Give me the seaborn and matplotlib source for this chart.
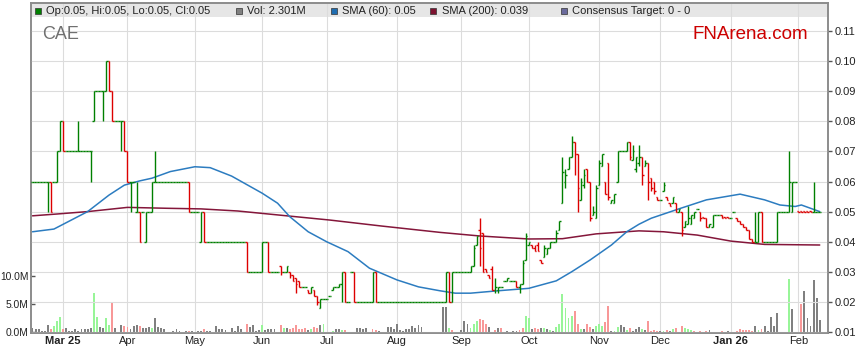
import numpy as np
import pandas as pd
import seaborn as sns
import matplotlib.pyplot as plt
from matplotlib.patches import Rectangle
from matplotlib.ticker import FormatStrFormatter

sns.set_style("white")
plt.rcParams["font.family"] = ["Liberation Sans", "DejaVu Sans"]
plt.rcParams["font.size"] = 8

# daily bars, 17 Feb 2025 - 11 Feb 2026 (weekdays)
open_ = (
    [.06, .06, .06, .06, .06, .06, .06, .06, .06, .07]  # Feb 25
    + [.08, .07, .07, .07, .07, .07, .07, .07, .07, .07, .08, .09, .09, .09, .09, .10, .09, .08, .08, .08, .08]  # Mar
    + [.07, .06, .06, .05, .05, .05, .04, .05, .05, .06] + [.06] * 10 + [.06, .05]  # Apr
    + [.05, .05, .04, .05] + [.04] * 13 + [.04] + [.03] * 4  # May
    + [.03, .04, .04, .03, .03, .03, .032, .030, .030, .030, .029, .028, .027, .025, .025, .024, .023, .024, .022, .018, .021]  # Jun
    + [.021, .022, .024, .025, .025, .026, .030, .020, .030, .030] + [.020] * 5 + [.020, .030] + [.020] * 6  # Jul
    + [.020] * 16 + [.020, .030, .020, .030, .030]  # Aug
    + [.030, .030, .030, .030, .032, .039, .044, .043, .031, .029, .031, .024, .024, .025, .027, .027, .027, .027, .027, .025, .026, .034]  # Sep
    + [.039, .039, .038, .039, .034, .035, .036, .038, .040, .040, .044, .053, .060, .064, .068, .073, .069, .054, .059, .064, .060, .049, .048]  # Oct
    + [.059, .065, .060, .066, .053, .053, .060, .070, .070, .070, .073, .067, .064, .066, .068, .065, .066, .061, .060, .055]  # Nov
    + [.054, .057, .055, .053, .053, .053, .050, .050, .045, .046, .046, .048, .051, .050, .0482, .048, .045, .045, .049, .049, .049, .0482, .0482]  # Dec
    + [.048, .050, .048, .047, .046, .045, .044, .041, .040, .040, .050] + [.040] * 4 + [.040] + [.050] * 3 + [.050, .050, .060]  # Jan 26
    + [.0502] * 5 + [.050, .050, .050]  # Feb 26
)
high = (
    [.06, .06, .06, .06, .06, .06, .06, .06, .07, .08]
    + [.08, .07, .07, .07, .07, .08, .07, .07, .07, .07, .09, .09, .09, .09, .10, .10, .09, .08, .08, .08, .08]
    + [.07, .06, .06, .06, .05, .05, .05, .05, .06, .07] + [.06] * 10 + [.06, .05]
    + [.05, .05, .05, .05] + [.04] * 13 + [.04] + [.03] * 4
    + [.04, .04, .04, .03, .03, .03, .032, .030, .032, .030, .029, .028, .027, .025, .025, .024, .025, .024, .022, .021, .021]
    + [.021, .022, .025, .025, .026, .030, .030, .020, .030, .030] + [.020] * 5 + [.030, .030] + [.020] * 6
    + [.020] * 16 + [.030, .030, .030, .030, .030]
    + [.030, .030, .030, .032, .039, .042, .048, .043, .031, .029, .032, .028, .025, .025, .027, .028, .027, .027, .027, .026, .034, .043]
    + [.040, .039, .039, .040, .034, .039, .038, .040, .040, .044, .047, .068, .064, .068, .075, .073, .069, .061, .064, .064, .060, .052, .059]
    + [.067, .069, .060, .066, .054, .056, .070, .070, .070, .073, .073, .072, .068, .072, .068, .067, .066, .061, .060, .055]
    + [.054, .060, .055, .053, .055, .053, .051, .050, .047, .052, .049, .050, .051, .050, .0482, .048, .046, .049, .049, .049, .049, .0482, .0482]
    + [.048, .050, .048, .047, .046, .045, .044, .041, .050, .050, .050] + [.040] * 4 + [.050] + [.050] * 3 + [.070, .060, .060]
    + [.0502] * 5 + [.060, .050, .050]
)
low = (
    [.06, .06, .06, .06, .06, .05, .05, .06, .06, .07]
    + [.07, .07, .07, .07, .07, .07, .07, .07, .07, .06, .08, .09, .09, .08, .09, .09, .08, .08, .08, .07, .07]
    + [.06, .05, .06, .05, .04, .05, .04, .05, .05, .06] + [.06] * 10 + [.05, .05]
    + [.05, .05, .04, .04] + [.04] * 13 + [.03] + [.03] * 4
    + [.03, .04, .03, .03, .03, .03, .029, .030, .030, .028, .027, .023, .025, .025, .025, .023, .023, .022, .019, .018, .021]
    + [.021, .022, .024, .025, .025, .020, .020, .020, .030, .020] + [.020] * 5 + [.020, .020] + [.020] * 6
    + [.020] * 16 + [.020, .020, .020, .030, .030]
    + [.030, .030, .030, .030, .032, .039, .032, .030, .030, .028, .024, .023, .023, .025, .027, .027, .027, .027, .025, .023, .026, .034]
    + [.039, .038, .037, .037, .033, .035, .036, .038, .040, .040, .044, .053, .058, .064, .068, .062, .050, .054, .058, .060, .047, .049, .048]
    + [.059, .065, .056, .054, .053, .053, .060, .070, .070, .070, .067, .067, .063, .065, .059, .065, .054, .057, .056, .054]
    + [.054, .057, .054, .052, .053, .050, .050, .042, .045, .046, .046, .048, .051, .047, .048, .045, .045, .045, .049, .049, .048, .048, .048]
    + [.048, .050, .047, .046, .045, .044, .041, .040, .040, .040, .040] + [.040] * 4 + [.040] + [.050] * 3 + [.050, .050, .060]
    + [.050] * 5 + [.050, .050, .050]
)
close = (
    [.06, .06, .06, .06, .06, .06, .05, .06, .07, .08]
    + [.07, .07, .07, .07, .07, .07, .07, .07, .07, .07, .09, .09, .09, .09, .10, .09, .08, .08, .08, .08, .07]
    + [.06, .06, .06, .05, .04, .05, .05, .05, .06, .06] + [.06] * 10 + [.05, .05]
    + [.05, .05, .05, .04] + [.04] * 13 + [.03] + [.03] * 4
    + [.04, .04, .03, .03, .03, .03, .030, .030, .032, .029, .027, .026, .025, .025, .025, .023, .025, .022, .020, .021, .021]
    + [.021, .022, .025, .025, .026, .030, .020, .020, .030, .020] + [.020] * 5 + [.030, .020] + [.020] * 6
    + [.020] * 16 + [.030, .020, .030, .030, .030]
    + [.030, .030, .030, .032, .038, .042, .038, .030, .030, .028, .024, .025, .025, .025, .027, .028, .027, .027, .025, .026, .033, .042]
    + [.040, .038, .037, .037, .033, .038, .038, .040, .040, .043, .047, .063, .062, .068, .073, .069, .058, .060, .062, .060, .048, .050, .058]
    + [.066, .069, .056, .055, .054, .056, .070, .070, .070, .073, .068, .070, .068, .068, .062, .066, .060, .058, .057, .054]
    + [.054, .059, .054, .052, .055, .050, .051, .044, .047, .048, .049, .050, .051, .048, .048, .045, .046, .049, .049, .049, .048, .048, .048]
    + [.048, .050, .047, .046, .045, .044, .041, .040, .040, .050, .040] + [.040] * 4 + [.050] + [.050] * 3 + [.060, .060, .060]
    + [.050] * 8
)
# volume in millions, and bar colour class (g up, r down, n unchanged)
volume = (
    [0.7, 0.5, 0.5, 0.2, 0.2, 1.2, 0.5, 1.0, 1.9, 2.6]
    + [0.5, 0.65, 0.2, 0.2, 0.5, 0.2, 0.5, 0.5, 0.5, 0.65, 6.9, 2.6, 0.9, 0.65, 2.4, 1.2, 5.1, 0.65, 0, 1.2, 1.0]
    + [0.8, 0.5, 1.0, 1.2, 1.0, 0.65, 0.65, 0.8, 0.7, 2.4, 0.8, 0.65, 0.5, 0, 0, 0.2, 0.5, 0.2, 0, 0.2, 0.2, 0.2]
    + [0, 0.2, 0.2, 0.5, 0.2, 0.2, 0, 1.0, 0.5, 0.5, 0.3, 0, 0.65, 0.2, 1.0, 0.5, 0, 1.5, 0.9, 1.3, 0.2, 0.3]
    + [1.2, 0.35, 0.5, 0.5, 0.5, 0, 1.3, 0.7, 0.7, 0.5, 0.7, 1.3, 0.5, 0.5, 0.7, 0.35, 0.5, 0.9, 0.7, 1.2, 1.5]
    + [0, 0, 0.2, 0.5, 0.5, 0.3, 0.3, 0, 0, 0, 0.65, 0.65, 0.5, 0.65, 0, 0.5, 0.3, 0.2, 0, 0, 0.8, 0.8, 0.5]
    + [1.4, 0.3, 0.2, 0.5, 0.5, 1.0, 0.65, 1.2, 0.9, 0, 0, 0, 0, 0, 0, 4.4, 4.4, 0.7, 0.3, 0, 0]
    + [0.3, 2.0, 1.5, 0.7, 1.5, 2.0, 2.3, 2.2, 1.5, 0.9, 0, 0.3, 0.7, 0.7, 0, 0.2, 0, 0.2, 0.2, 0.35, 0.7, 2.8]
    + [2.4, 0.5, 0.7, 0.5, 0.7, 0.7, 0.5, 0.35, 0.2, 0.9, 1.5, 6.7, 4.3, 2.4, 2.8, 3.7, 1.5, 0.5, 0.5, 1.4, 0.8, 0.5, 1.0]
    + [1.4, 1.0, 1.7, 4.6, 0.2, 0.2, 0.9, 1.3, 0.8, 0.3, 0.65, 0.2, 0.6, 0.8, 0.5, 0.4, 2.0, 0.25, 0.3, 0.2]
    + [0.15, 0.15, 0.3, 0.2, 0.5, 0.65, 0, 1.0, 0.7, 0.6, 0.3, 0.2, 0, 0.2, 0, 0.2, 0.3, 0, 0, 0, 0.15, 0, 0.2]
    + [0, 0, 0.2, 0.5, 0.3, 0.3, 0.3, 0.2, 1.0, 0.4, 0.5, 1.0, 0.2, 2.6, 1.0, 3.3, 0, 0, 0, 9.5, 4.0, 0]
    + [0, 4.9, 7.3, 2.4, 1.0, 9.3, 6.0, 2.2]
)
vol_dir = (
    "nnnnnnrggg"
    + "rnnnnnnnnnggnnggrnnnr"
    + "rnnnrnnng" + "nnnnnnnnnnn" + "rn"
    + "nnnr" + "nnnnnnnnnnnnn" + "rnnnn"
    + "gnnnnnrgnrrrrrrngrrng"
    + "nngnngr" + "nnnnnnnn" + "rr" + "nnnnnn"
    + "nnnnnnnnnnnnnnnnn" + "grnn"
    + "nnngggrrrnnrnrnnnnnrrg"
    + "gnrrngngnggggggrrgnrrng"
    + "ggrrnggnngrnnngnrrrr"
    + "ngrngrnrgggrnrnrnnnnrnn"
    + "nnrrrrrrngr" + "nnnnnnnn" + "gnn"
    + "nrnnnnnn"
)
# moving averages, sampled along the drawn curves (day index, value)
sma60_day = [0, 7, 18, 25, 30, 35, 39, 45, 53, 58, 65, 75, 80, 84, 90, 96, 103, 110, 119, 126, 133, 138, 143,
             152, 162, 171, 176, 182, 189, 194, 198, 202, 211, 220, 231, 239, 244, 249, 251, 257]
sma60_val = [0.0433, 0.0442, 0.0500, 0.0555, 0.0588, 0.0602, 0.0611, 0.0633, 0.0649, 0.0646, 0.0618, 0.0561,
             0.0528, 0.0483, 0.0433, 0.0400, 0.0367, 0.0312, 0.0273, 0.0250, 0.0237, 0.0229, 0.0229, 0.0237,
             0.0245, 0.0270, 0.0300, 0.0339, 0.0389, 0.0433, 0.0458, 0.0478, 0.0509, 0.0539, 0.0558, 0.0539,
             0.0522, 0.0517, 0.0522, 0.0500]
sma200_day = [0, 8, 18, 31, 44, 55, 67, 84, 97, 114, 133, 146, 162, 173, 184, 198, 206, 217, 228, 239, 257]
sma200_val = [0.0486, 0.0492, 0.0500, 0.0514, 0.0511, 0.0509, 0.0502, 0.0485, 0.0472, 0.0452, 0.0431, 0.0419,
              0.0409, 0.0410, 0.0426, 0.0436, 0.0433, 0.0422, 0.0402, 0.0391, 0.0389]

n = len(close)
assert all(len(a) == n for a in (open_, high, low, volume, vol_dir))
dates = pd.bdate_range("2025-02-17", periods=n)
day = np.arange(n)
o, h, l, c = map(np.array, (open_, high, low, close))

W, H = 859, 363
fig = plt.figure(figsize=(W / 100, H / 100), dpi=100)
x0, x1, y0, y1 = 30.5, 828, 3, 333  # plot frame, pixels from top-left
axv = fig.add_axes([x0 / W, 1 - y1 / H, (x1 - x0) / W, (y1 - y0) / H])
ax = axv.twinx()

# volume (left scale)
vcol = {"g": "#98f598", "r": "#f89898", "n": "#808080"}
axv.bar(day, volume, width=0.62, color=[vcol[d] for d in vol_dir], linewidth=0, zorder=2)
axv.set_ylim(-1 / 5.63, (332 - y0) / 5.63)
axv.set_yticks([0, 5, 10])
axv.yaxis.set_major_formatter(FormatStrFormatter("%.1fM"))
axv.tick_params(axis="y", direction="in", length=3, width=1, color="#555555", pad=1.5,
                labelsize=7.4, labelcolor="#222222")

# month grid
first = np.r_[True, dates.month[1:] != dates.month[:-1]]
month_idx = day[first][1:]
month_lab = [dates[i].strftime("%b %y") if (k == 0 or dates[i].month == 1) else dates[i].strftime("%b")
             for k, i in enumerate(month_idx)]
axv.set_xticks(month_idx)
axv.set_xticklabels(month_lab)
for t in axv.get_xticklabels():
    if " " in t.get_text():
        t.set_fontweight("bold")
axv.tick_params(axis="x", length=0, pad=2.5, labelsize=8, labelcolor="#222222")
axv.set_xlim(-0.65, 259.7)
axv.set_axisbelow(True)
axv.grid(axis="x", color="#dcdcdc", linewidth=0.8)
axv.grid(axis="y", visible=False)

# header band
axv.add_patch(Rectangle((0, 1 - 14 / 330), 1, 14 / 330, transform=axv.transAxes,
                        facecolor="#e6e6e6", edgecolor="none", zorder=0.2))

# price (right scale)
ax.set_ylim(0.01 - 1 / 3010, 0.11 + 28 / 3010)
ax.set_yticks(np.arange(1, 12) / 100)
ax.yaxis.set_major_formatter(FormatStrFormatter("%.2f"))
ax.tick_params(axis="y", direction="out", length=3, width=1, color="#555555", pad=2,
               labelsize=8, labelcolor="#222222")
ax.set_axisbelow(True)
ax.grid(axis="y", color="#dcdcdc", linewidth=0.8)

sns.lineplot(x=sma200_day, y=sma200_val, ax=ax, color="#84163a", linewidth=1.1, zorder=2)
sns.lineplot(x=sma60_day, y=sma60_val, ax=ax, color="#2c7cc0", linewidth=1.1, zorder=2)

bar_col = np.where(c < o, "#dd0000", "#008000")
ax.vlines(day, l, h, colors=bar_col, linewidth=1.0, zorder=3)
ax.hlines(o, day - 0.5, day, colors=bar_col, linewidth=1.0, zorder=3)
ax.hlines(c, day, day + 0.5, colors=bar_col, linewidth=1.0, zorder=3)
ax.set_xlim(-0.65, 259.7)
ax.set_ylabel("")
ax.set_xlabel("")

for a in (axv, ax):
    for s in a.spines.values():
        s.set_color("#8c8c8c")
        s.set_linewidth(1.2)

# header legend
items = [(35, "#008000", "Op:0.05, Hi:0.05, Lo:0.05, Cl:0.05"),
         (235.5, "#808080", "Vol: 2.301M"),
         (330.5, "#1f6db0", "SMA (60): 0.05"),
         (430, "#7d1230", "SMA (200): 0.039"),
         (560.5, "#6a6a9c", "Consensus Target: 0 - 0")]
for xs, col, txt in items:
    fig.add_artist(Rectangle((xs / W, 1 - 13.5 / H), 6 / W, 6 / H, transform=fig.transFigure,
                             facecolor=col, edgecolor="#333333", linewidth=0.5))
    fig.text((xs + 11.5) / W, 1 - 13.8 / H, txt, fontsize=8, color="#222222", va="baseline")

fig.text(42.5 / W, 1 - 39.3 / H, "CAE", fontsize=13, color="#707070", va="baseline")
fig.text(693 / W, 1 - 39.3 / H, "FNArena.com", fontsize=13.5, color="#cc0000", va="baseline")

fig.savefig("out.png", dpi=100)
